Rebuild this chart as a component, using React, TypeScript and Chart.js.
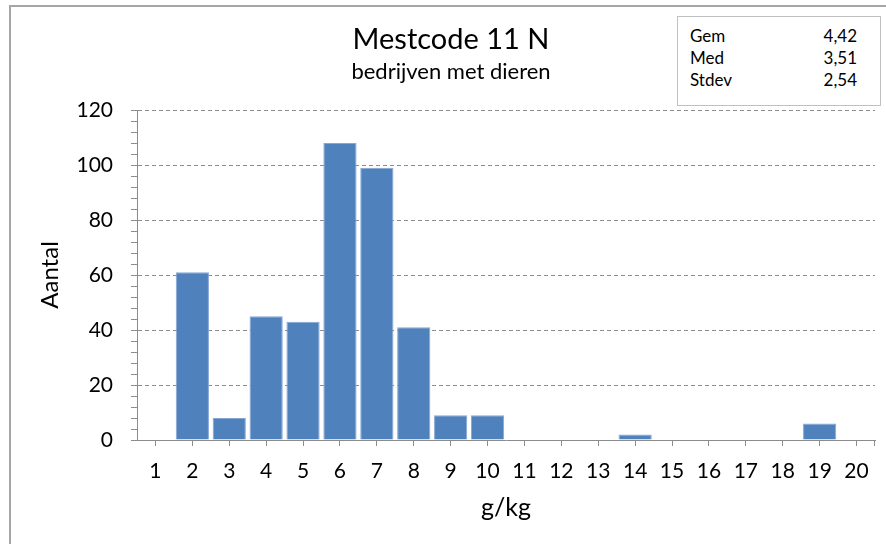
import React, { useEffect, useRef } from 'react';
import { Chart, registerables } from 'chart.js';

Chart.register(...registerables);

const categories = ['1', '2', '3', '4', '5', '6', '7', '8', '9', '10', '11', '12', '13', '14', '15', '16', '17', '18', '19', '20'];
const counts = [0, 61, 8, 45, 43, 108, 99, 41, 9, 9, 0, 0, 0, 2, 0, 0, 0, 0, 6, 0];
const yMin = 0;
const yMax = 120;
const yMajorStep = 20;
const yMinorStep = 4;
const statLabels = ['Gem', 'Med', 'Stdev'];
const statValues = ['4,42', '3,51', '2,54'];
const titleText = 'Mestcode 11 N';
const subtitleText = 'bedrijven met dieren';
const xTitle = 'g/kg';
const yTitle = 'Aantal';

const FONT = 'Lato, Carlito, Calibri, "Noto Sans", sans-serif';
const AXIS_GRAY = '#8c8c8c';

const endTickPlugin = {
  id: 'endTick',
  afterDraw(chart: any) {
    const x = chart.scales.x;
    const ctx = chart.ctx;
    ctx.save();
    ctx.strokeStyle = AXIS_GRAY;
    ctx.lineWidth = 1;
    ctx.beginPath();
    ctx.moveTo(Math.round(x.right) - 0.5, x.top);
    ctx.lineTo(Math.round(x.right) - 0.5, x.top + 6);
    ctx.stroke();
    ctx.restore();
  },
};

export default function App() {
  const canvasRef = useRef<HTMLCanvasElement | null>(null);

  useEffect(() => {
    if (!canvasRef.current) return;
    const chart = new Chart(canvasRef.current, {
      type: 'bar',
      data: {
        labels: categories,
        datasets: [
          {
            data: counts,
            backgroundColor: '#4F81BD',
            borderColor: '#86A6D6',
            borderWidth: 1,
            barPercentage: 0.9,
            categoryPercentage: 1.0,
          },
        ],
      },
      plugins: [endTickPlugin],
      options: {
        responsive: false,
        animation: false,
        events: [],
        layout: { padding: { left: 27, right: 11, top: 0, bottom: 0 } },
        plugins: {
          legend: { display: false },
          tooltip: { enabled: false },
          title: {
            display: true,
            text: titleText,
            color: '#000',
            font: { family: FONT, size: 29, weight: 'normal' },
            padding: { top: 22.6, bottom: 0 },
          },
          subtitle: {
            display: true,
            text: subtitleText,
            color: '#000',
            font: { family: FONT, size: 22, weight: 'normal' },
            padding: { top: 1.4, bottom: 24.8 },
          },
        },
        scales: {
          x: {
            offset: true,
            grid: {
              offset: false,
              drawOnChartArea: false,
              drawTicks: true,
              tickLength: 6,
              tickColor: AXIS_GRAY,
              color: AXIS_GRAY,
            },
            border: { display: true, color: AXIS_GRAY, width: 1 },
            ticks: {
              color: '#000',
              font: { family: FONT, size: 21 },
              padding: 13,
              maxRotation: 0,
              autoSkip: false,
            },
            title: {
              display: true,
              text: xTitle,
              color: '#000',
              font: { family: FONT, size: 25 },
              padding: { top: 0, bottom: 21 },
            },
            afterFit: (s: any) => {
              s.height = 104;
            },
          },
          y: {
            min: yMin,
            max: yMax,
            ticks: {
              stepSize: yMinorStep,
              autoSkip: false,
              color: '#000',
              font: { family: FONT, size: 21 },
              padding: 18,
              callback: (v: any) => (Number(v) % yMajorStep === 0 ? String(v) : ''),
            },
            grid: {
              color: (ctx: any) =>
                ctx.tick && ctx.tick.value % yMajorStep === 0 && ctx.tick.value > yMin ? AXIS_GRAY : 'rgba(0,0,0,0)',
              tickColor: AXIS_GRAY,
              tickLength: 6,
              tickBorderDash: [],
              lineWidth: 1,
            },
            border: { display: true, color: AXIS_GRAY, width: 1, dash: [4, 3] },
            title: {
              display: true,
              text: yTitle,
              color: '#000',
              font: { family: FONT, size: 24 },
              padding: { top: 8.6, bottom: 0 },
            },
            afterFit: (s: any) => {
              s.width = 110;
            },
          },
        },
      },
    } as any);
    return () => chart.destroy();
  }, []);

  return (
    <div
      style={{
        position: 'fixed',
        left: 0,
        top: 0,
        width: 886,
        height: 544,
        background: '#fff',
        overflow: 'hidden',
        fontFamily: FONT,
      }}
    >
      <canvas ref={canvasRef} width={886} height={544} style={{ position: 'absolute', left: 0, top: 0 }} />
      <div
        style={{
          position: 'absolute',
          left: 9,
          top: 5,
          width: 900,
          height: 600,
          borderLeft: '2px solid #a6a6a6',
          borderTop: '2px solid #a6a6a6',
          pointerEvents: 'none',
        }}
      />
      <div
        style={{
          position: 'absolute',
          left: 677,
          top: 16,
          width: 204,
          height: 90,
          border: '1px solid #c0c0c0',
          background: '#fff',
          boxSizing: 'border-box',
          paddingTop: 8,
        }}
      >
        {statLabels.map((lab, i) => (
          <div
            key={lab}
            style={{
              position: 'relative',
              height: 22,
              lineHeight: '22px',
              fontSize: 17,
              color: '#000',
            }}
          >
            <span style={{ position: 'absolute', left: 12 }}>{lab}</span>
            <span style={{ position: 'absolute', right: 23 }}>{statValues[i]}</span>
          </div>
        ))}
      </div>
    </div>
  );
}
